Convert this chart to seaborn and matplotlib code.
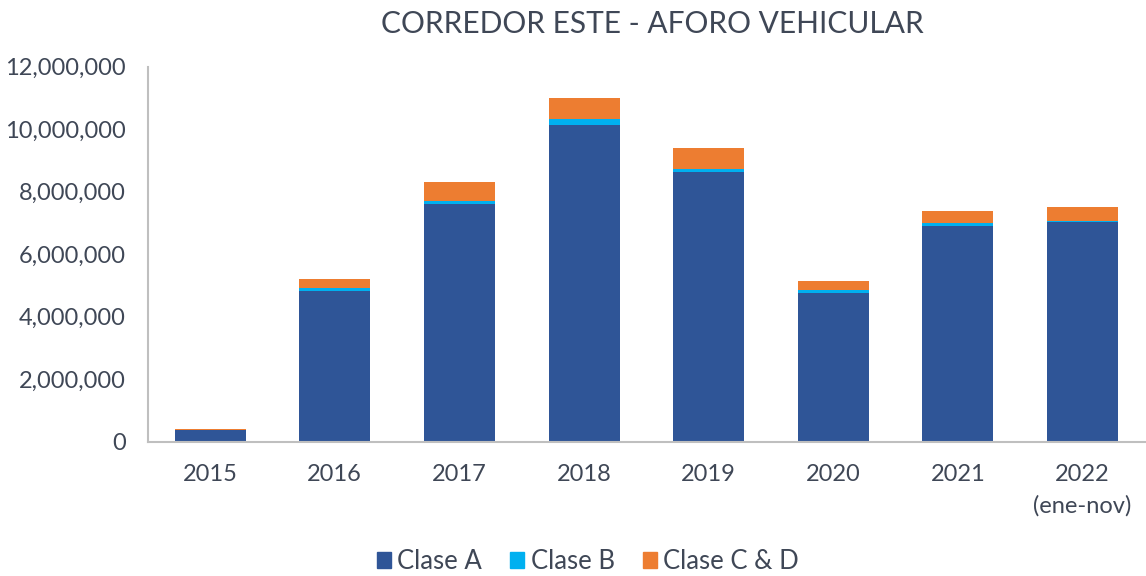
import matplotlib
matplotlib.use("Agg")
import matplotlib.pyplot as plt
import seaborn as sns
import pandas as pd
import numpy as np
from matplotlib.ticker import FuncFormatter
from matplotlib.patches import Patch

years = ["2015", "2016", "2017", "2018", "2019", "2020", "2021", "2022\n(ene-nov)"]
clase_a = [370000, 4810000, 7620000, 10140000, 8620000, 4760000, 6890000, 7020000]
clase_b = [10000, 110000, 70000, 190000, 120000, 100000, 110000, 60000]
clase_cd = [20000, 300000, 610000, 670000, 660000, 300000, 390000, 430000]

colors = {"Clase A": "#2F5597", "Clase B": "#00B0F0", "Clase C & D": "#ED7D31"}
text_color = "#3F4756"

sns.set_theme(style="white")
plt.rcParams['font.family'] = ['Lato', 'DejaVu Sans']

df = pd.DataFrame({"year": years, "A": clase_a, "B": clase_b, "CD": clase_cd})
df["AB"] = df["A"] + df["B"]
df["ABCD"] = df["AB"] + df["CD"]

fig = plt.figure(figsize=(11.46, 5.76), dpi=100)
ax = fig.add_axes([0.129, 0.233, 0.870, 0.651])

w = 0.57
sns.barplot(data=df, x="year", y="ABCD", color=colors["Clase C & D"], width=w, ax=ax, saturation=1, linewidth=0)
sns.barplot(data=df, x="year", y="AB", color=colors["Clase B"], width=w, ax=ax, saturation=1, linewidth=0)
sns.barplot(data=df, x="year", y="A", color=colors["Clase A"], width=w, ax=ax, saturation=1, linewidth=0)

ax.set_ylim(0, 12000000)
ax.set_yticks(np.arange(0, 12000001, 2000000))
ax.yaxis.set_major_formatter(FuncFormatter(lambda v, p: f"{int(v):,}"))
ax.set_xlabel("")
ax.set_ylabel("")
ax.tick_params(axis="both", colors=text_color, labelsize=17, length=0)
ax.tick_params(axis="x", pad=16)
ax.tick_params(axis="y", pad=16)
for lab in ax.get_xticklabels():
    lab.set_color(text_color)
    lab.set_linespacing(1.6)
for s in ["top", "right"]:
    ax.spines[s].set_visible(False)
for s in ["left", "bottom"]:
    ax.spines[s].set_color("#BFBFBF")
    ax.spines[s].set_linewidth(1.5)

fig.text(0.569, 0.958, "CORREDOR ESTE - AFORO VEHICULAR", ha="center", va="center",
         fontsize=21.5, color=text_color)

handles = [Patch(color=c, label=l) for l, c in colors.items()]
fig.legend(handles=handles, loc="center", bbox_to_anchor=(0.513, 0.025), ncol=3, frameon=False,
           fontsize=18.5, handlelength=0.55, handleheight=0.55, handletextpad=0.25, columnspacing=1.1,
           labelcolor=text_color)

fig.savefig("out.png", dpi=100)
